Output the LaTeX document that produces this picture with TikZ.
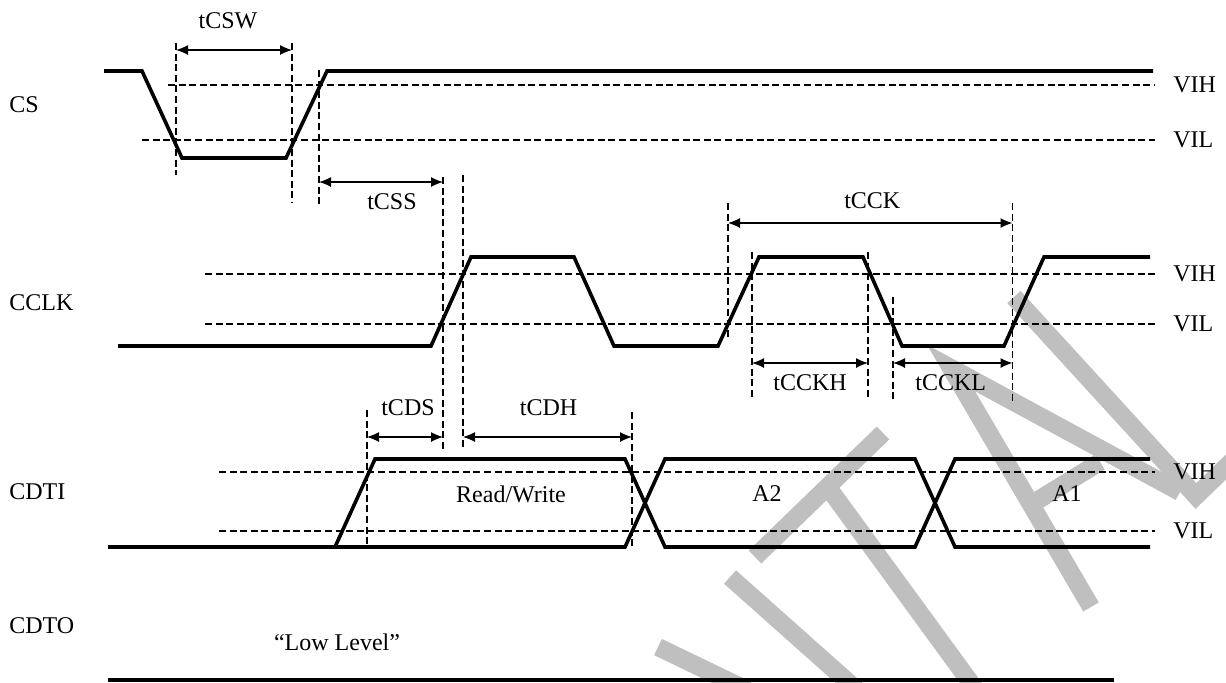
\documentclass[tikz,border=0pt]{standalone}
\usepackage{fontspec}
\setmainfont{Liberation Serif}
\usetikzlibrary{calc,arrows.meta}
\newcommand{\makespan}[5]{
	\draw[span] (#1) -- (#2);
	\node[lbl] (#3) at ($(#1)!0.5!(#2)+(#5)$) {#4};
}
\tikzset{
	signal/.style={line width=1.8pt, line join=miter},
	level/.style={line width=0.6pt, dash pattern=on 3.5pt off 1.8pt},
	span/.style={line width=0.6pt, {Latex[length=6pt,width=5pt]}-{Latex[length=6pt,width=5pt]}},
	lbl/.style={inner sep=0pt, font=\fontsize{12}{14}\selectfont},
	wmark/.style={line width=9pt, color=black!25}
}

\begin{document}
\begin{tikzpicture}[x=0.5pt,y=-0.5pt]
	\useasboundingbox (0,0) rectangle (1226,682);

	% watermark
	\draw[wmark] (1014,297) -- (1196,496) -- (1290,405);
	\draw[wmark] (1091,607) -- (951,368) -- (1180,492);
	\draw[wmark] (1030,505) -- (1100,462);
	\draw[wmark] (883,433) -- (755,557);
	\draw[wmark] (830,490) -- (976,690);
	\draw[wmark] (730,577) -- (857,690);
	\draw[wmark] (658,647) -- (747,690);

	% signal names
	\node[lbl,anchor=west] (cs) at (9,105) {CS};
	\node[lbl,anchor=west] (cclk) at (9,303) {CCLK};
	\node[lbl,anchor=west] (cdti) at (9,492) {CDTI};
	\node[lbl,anchor=west] (cdto) at (9,626) {CDTO};

	% CS
	\draw[level] (168,85) -- (1155,85);
	\draw[level] (142,140) -- (1155,140);
	\node[lbl,anchor=west] (csH) at (1173,85) {VIH};
	\node[lbl,anchor=west] (csL) at (1173,140) {VIL};
	\draw[signal] (104,71) -- (142,71) -- (182,158) -- (286,158) -- (327,71) -- (1153,71);

	% CCLK
	\draw[level] (205,274) -- (1155,274);
	\draw[level] (205,324) -- (1155,324);
	\node[lbl,anchor=west] (cclkH) at (1173,274) {VIH};
	\node[lbl,anchor=west] (cclkL) at (1173,324) {VIL};
	\draw[signal] (118,346) -- (431,346) -- (471,257) -- (574,257) -- (614,346) -- (718,346)
		-- (759,257) -- (863,257) -- (902,346) -- (1004,346) -- (1044,257) -- (1150,257);

	% CDTI
	\draw[level] (219,472) -- (1155,472);
	\draw[level] (219,531) -- (1155,531);
	\node[lbl,anchor=west] (cdtiH) at (1173,472) {VIH};
	\node[lbl,anchor=west] (cdtiL) at (1173,531) {VIL};
	\draw[signal] (335,547) -- (375,459) -- (625,459) -- (665,547) -- (915,547) -- (955,459) -- (1150,459);
	\draw[signal] (108,547) -- (625,547) -- (665,459) -- (915,459) -- (955,547) -- (1150,547);
	\node[lbl] (rw) at (511,494) {Read/Write};
	\node[lbl] (a2) at (767,494) {A2};
	\node[lbl] (a1) at (1067,494) {A1};

	% CDTO
	\draw[signal] (108,680) -- (1114,680);
	\node[lbl] (low) at (337,642) {“Low Level”};

	% timing marks
	\draw[level] (176,43) -- (176,175);
	\draw[level] (292,43) -- (292,203);
	\draw[level] (319,70) -- (319,205);
	\draw[level] (443,177) -- (443,450);
	\draw[level] (463,175) -- (463,450);
	\draw[level] (367,410) -- (367,547);
	\draw[level] (632,412) -- (632,547);
	\draw[level] (728,203) -- (728,338);
	\draw[level] (1012.5,203) -- (1012.5,402);
	\draw[level] (752,252) -- (752,399);
	\draw[level] (868,252) -- (868,399);
	\draw[level] (893,297) -- (893,402);

	\coordinate (w1) at (176,50);
	\coordinate (w2) at (292,50);
	\coordinate (s1) at (319,182);
	\coordinate (s2) at (443,182);
	\coordinate (d1) at (367,437);
	\coordinate (d2) at (443,437);
	\coordinate (h1) at (463,437);
	\coordinate (h2) at (632,437);
	\coordinate (k1) at (728,223);
	\coordinate (k2) at (1012.5,223);
	\coordinate (kh1) at (752,363);
	\coordinate (kh2) at (868,363);
	\coordinate (kl1) at (893,363);
	\coordinate (kl2) at (1012.5,363);

	\makespan{w1}{w2}{tcsw}{tCSW}{-6,-29}
	\makespan{s1}{s2}{tcss}{tCSS}{11,20}
	\makespan{d1}{d2}{tcds}{tCDS}{3,-29}
	\makespan{h1}{h2}{tcdh}{tCDH}{1,-29}
	\makespan{k1}{k2}{tcck}{tCCK}{2,-22}
	\makespan{kh1}{kh2}{tcckh}{tCCKH}{0,20}
	\makespan{kl1}{kl2}{tcckl}{tCCKL}{-2,20}

\end{tikzpicture}
\end{document}
